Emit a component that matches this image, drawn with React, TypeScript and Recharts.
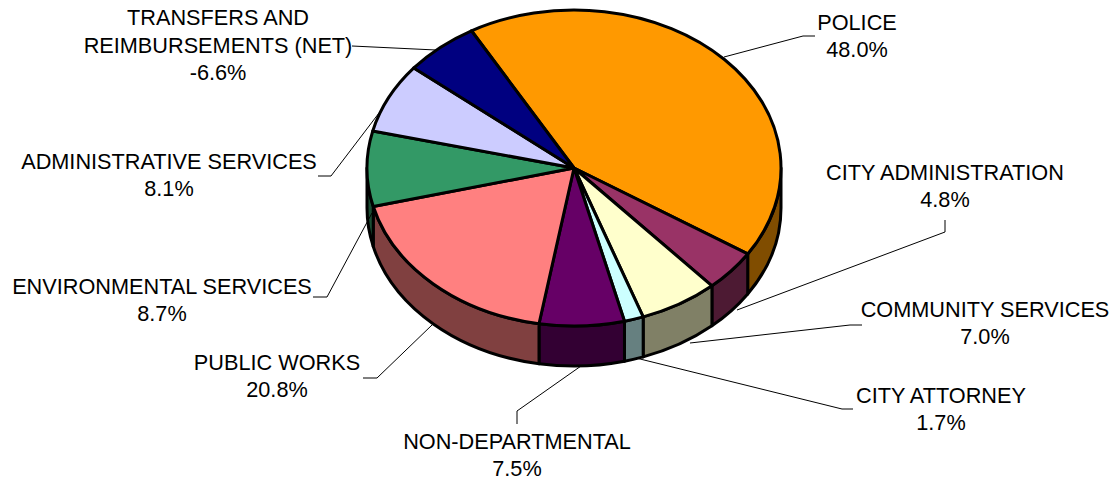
import { PieChart, Pie } from "recharts";

const categories = [
  "POLICE",
  "CITY ADMINISTRATION",
  "COMMUNITY SERVICES",
  "CITY ATTORNEY",
  "NON-DEPARTMENTAL",
  "PUBLIC WORKS",
  "ENVIRONMENTAL SERVICES",
  "ADMINISTRATIVE SERVICES",
  "TRANSFERS AND\nREIMBURSEMENTS (NET)",
];
const percents = [48.0, 4.8, 7.0, 1.7, 7.5, 20.8, 8.7, 8.1, -6.6];

const topColors = ["#FF9900", "#993366", "#FFFFCC", "#CCFFFF", "#660066", "#FF8080", "#339966", "#CCCCFF", "#000080"];
const wallColors = ["#804D00", "#4D1A33", "#808066", "#668080", "#330033", "#804040", "#1A4D33", "#666680", "#000040"];

// label placement: text centre, first baseline, leader line points
const labelSpots = [
  { x: 857, y: 30, line: [[724, 57], [803, 36], [815, 36]] },
  { x: 945, y: 180, line: [[737, 310], [945, 232], [945, 220]] },
  { x: 985, y: 317, line: [[690, 343], [850, 325], [862, 325]] },
  { x: 941, y: 403, line: [[636, 358], [842, 409], [853, 409]] },
  { x: 517, y: 449, line: [[581, 366], [517, 411], [517, 424]] },
  { x: 277, y: 370, line: [[432, 325], [377, 378], [363, 378]] },
  { x: 162, y: 294, line: [[372, 213], [327, 297], [313, 297]] },
  { x: 169, y: 169, line: [[379, 113], [331, 176], [318, 176]] },
  { x: 218, y: 25, line: [[436, 50], [352, 46]] },
];

const data = categories.map((name, i) => ({
  name,
  share: Math.abs(percents[i]),
  shown: percents[i],
  fill: topColors[i],
  wall: wallColors[i],
}));

const RX = 207;
const RY = 158;
const DEPTH = 40;
const STROKE = 3;

function Slice(props: any) {
  const { cx, cy, startAngle, endAngle, fill } = props;
  const wall = props.wall ?? props.payload?.wall;
  const pt = (deg: number, dy = 0) => {
    const a = (deg * Math.PI) / 180;
    return `${cx + RX * Math.cos(a)} ${cy - RY * Math.sin(a) + dy}`;
  };
  const large = Math.abs(startAngle - endAngle) > 180 ? 1 : 0;
  const top = `M${cx} ${cy} L${pt(startAngle)} A${RX} ${RY} 0 ${large} 1 ${pt(endAngle)} Z`;

  // only the front half of the rim shows
  const from = Math.min(startAngle, 0);
  const to = Math.max(endAngle, -180);
  return (
    <g>
      {from > to && (
        <path
          d={`M${pt(from)} A${RX} ${RY} 0 0 1 ${pt(to)} L${pt(to, DEPTH)} A${RX} ${RY} 0 0 0 ${pt(from, DEPTH)} Z`}
          fill={wall}
          stroke="#000"
          strokeWidth={STROKE}
          strokeLinejoin="round"
        />
      )}
      <path d={top} fill={fill} stroke="#000" strokeWidth={STROKE} strokeLinejoin="round" />
    </g>
  );
}

function SliceLabel(props: any) {
  const { index } = props;
  const spot = labelSpots[index];
  const lines = categories[index].split("\n");
  return (
    <g>
      <polyline points={spot.line.map((p) => p.join(",")).join(" ")} fill="none" stroke="#000" strokeWidth={1} />
      <text x={spot.x} y={spot.y} textAnchor="middle" fontSize={21.7} fontFamily="Liberation Sans" fill="#000">
        {lines.map((l, i) => (
          <tspan key={i} x={spot.x} dy={i === 0 ? 0 : 28}>{l}</tspan>
        ))}
        <tspan x={spot.x} dy={27}>{percents[index].toFixed(1)}%</tspan>
      </text>
    </g>
  );
}

export default function App() {
  return (
    <div style={{ position: "absolute", left: 0, top: 0, width: 1111, height: 479, background: "#fff" }}>
      <PieChart width={1111} height={479} margin={{ top: 0, right: 0, bottom: 0, left: 0 }}>
        <Pie
          data={data}
          dataKey="share"
          nameKey="name"
          cx={574}
          cy={168}
          innerRadius={0}
          outerRadius={RX}
          startAngle={119.7}
          endAngle={-240.3}
          paddingAngle={0}
          stroke="#000"
          shape={Slice}
          label={SliceLabel}
          labelLine={false}
          isAnimationActive={false}
        />
      </PieChart>
    </div>
  );
}
